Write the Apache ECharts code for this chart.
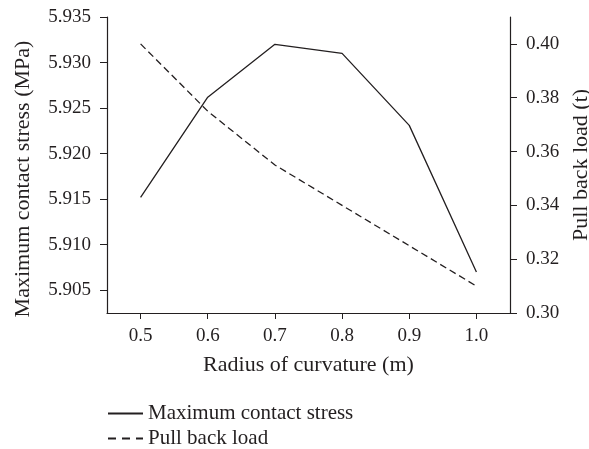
<!DOCTYPE html>
<html>
<head>
<meta charset="utf-8">
<script src="https://cdn.jsdelivr.net/npm/echarts@6/dist/echarts.min.js"></script>
<style>html,body{margin:0;padding:0;background:#fff}#c{width:589px;height:449px}</style>
</head>
<body>
<div id="c"></div>
<script>
const radius = [0.5, 0.6, 0.7, 0.8, 0.9, 1.0];
const contactStress = [5.9152, 5.9262, 5.9320, 5.9310, 5.9231, 5.9070];
const pullBackLoad = [0.400, 0.375, 0.355, 0.340, 0.325, 0.310];
const xTicks = [0.5, 0.6, 0.7, 0.8, 0.9, 1.0];
const leftTicks = [5.905, 5.910, 5.915, 5.920, 5.925, 5.930, 5.935];
const rightTicks = [0.30, 0.32, 0.34, 0.36, 0.38, 0.40];

const FONT = 'Liberation Serif';
const INK = '#231f20';
const TICK_FS = 19, NAME_FS = 22, LEG_FS = 21;
const chart = echarts.init(document.getElementById('c'));
const axisCommon = {
  axisLine: {show: true, lineStyle: {color: INK, width: 1.2}},
  splitLine: {show: false}
};
const legendCommon = {
  orient: 'vertical', left: 102, itemWidth: 35, itemHeight: 12, itemGap: 6,
  textStyle: {fontFamily: FONT, fontSize: LEG_FS, color: INK},
  itemStyle: {opacity: 0, borderWidth: 0}
};
chart.setOption({
  animation: false,
  backgroundColor: '#fff',
  textStyle: {fontFamily: FONT, color: INK},
  grid: {left: 107, right: 79, top: 17, bottom: 136, containLabel: false, outerBoundsMode: 'none'},
  legend: [
    Object.assign({}, legendCommon, {top: 398, data: ['Maximum contact stress']}),
    Object.assign({}, legendCommon, {top: 423, data: ['Pull back load'],
      lineStyle: {type: [8, 6]}})
  ],
  xAxis: Object.assign({}, axisCommon, {
    type: 'value', min: 0.45, max: 1.05,
    name: 'Radius of curvature (m)', nameLocation: 'middle', nameGap: 41,
    nameTextStyle: {fontFamily: FONT, fontSize: NAME_FS, color: INK},
    axisTick: {show: true, length: 6, inside: false, customValues: xTicks, lineStyle: {color: INK}},
    axisLabel: {customValues: xTicks, margin: 14, fontFamily: FONT, fontSize: TICK_FS, color: INK,
      formatter: v => v.toFixed(1)}
  }),
  yAxis: [
    Object.assign({}, axisCommon, {
      type: 'value', position: 'left', min: 5.9025, max: 5.935,
      name: 'Maximum contact stress (MPa)', nameLocation: 'middle', nameGap: 73,
      nameTextStyle: {fontFamily: FONT, fontSize: NAME_FS, color: INK, padding: [0, 28, 0, 0]},
      axisTick: {show: true, length: 7, customValues: leftTicks, lineStyle: {color: INK}},
      axisLabel: {customValues: leftTicks, margin: 16, fontFamily: FONT, fontSize: TICK_FS, color: INK,
        formatter: v => v.toFixed(3)}
    }),
    Object.assign({}, axisCommon, {
      type: 'value', position: 'right', min: 0.30, max: 0.41,
      name: 'Pull back load (t)', nameLocation: 'middle', nameGap: 59,
      nameTextStyle: {fontFamily: FONT, fontSize: NAME_FS, color: INK},
      axisTick: {show: true, length: 7, customValues: rightTicks, lineStyle: {color: INK}},
      axisLabel: {customValues: rightTicks, margin: 16, fontFamily: FONT, fontSize: TICK_FS, color: INK,
        formatter: v => v.toFixed(2)}
    })
  ],
  series: [
    {
      name: 'Maximum contact stress', type: 'line', yAxisIndex: 0,
      data: radius.map((x, i) => [x, contactStress[i]]),
      symbol: 'none', showSymbol: false, color: INK,
      lineStyle: {color: INK, width: 1.3, type: 'solid'}
    },
    {
      name: 'Pull back load', type: 'line', yAxisIndex: 1,
      data: radius.map((x, i) => [x, pullBackLoad[i]]),
      symbol: 'none', showSymbol: false, color: INK,
      lineStyle: {color: INK, width: 1.3, type: [7, 4]}
    }
  ]
});
</script>
</body>
</html>
